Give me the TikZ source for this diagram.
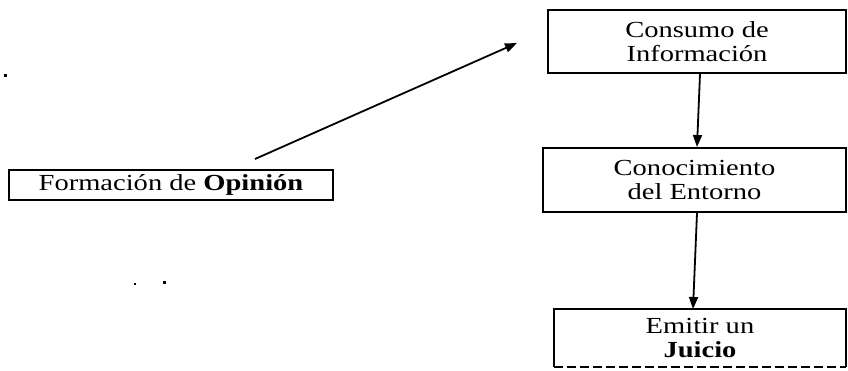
\documentclass[tikz,border=0pt]{standalone}
\usepackage{fontspec}
\setmainfont{Liberation Serif}[FakeStretch=1.24]
\usetikzlibrary{arrows.meta}
\tikzset{
  box/.style={draw=black, line width=2pt, inner sep=0pt, align=center,
              font=\fontsize{23}{24.5}\selectfont},
  openbox/.style={box, draw=none},
  flow/.style={-{Triangle[length=12pt,width=9pt]}, line width=1.8pt},
  speck/.style={fill=black, draw=none}
}
\begin{document}
\begin{tikzpicture}[x=1pt, y=-1pt]
  \useasboundingbox (0,0) rectangle (848,371);

  % boxes
  \node[box, minimum width=324pt, minimum height=30pt] (op) at (171,185)
    {Formación de \textbf{Opinión}};
  \node[box, minimum width=298pt, minimum height=63pt] (ci) at (697,41.5)
    {Consumo de\\Información};
  \node[box, minimum width=303pt, minimum height=64pt] (ce) at (694.5,180)
    {Conocimiento\\del Entorno};
  \node[openbox, minimum width=290pt, minimum height=56pt] (ej) at (700,338)
    {Emitir un\\\textbf{Juicio}};
  \draw[line width=2pt] (ej.south west) -- (ej.north west) -- (ej.north east) -- (ej.south east);
  \draw[line width=2pt, dash pattern=on 9pt off 4pt] (ej.south west) -- (ej.south east);

  % connectors
  \coordinate (opfrom) at (255,159);
  \coordinate (citip) at (517,43);
  \draw[flow] (opfrom) -- (citip);
  \draw[flow] (ci.south -| 700,0) -- (ce.north -| 697,0);
  \draw[flow] (ce.south -| 697,0) -- (ej.north -| 693,0);

  % specks
  \fill[speck] (4,74) rectangle (7,77);
  \fill[speck] (163,281) rectangle (166,284);
  \fill[speck] (134,283) rectangle (135.5,284.5);
\end{tikzpicture}
\end{document}
